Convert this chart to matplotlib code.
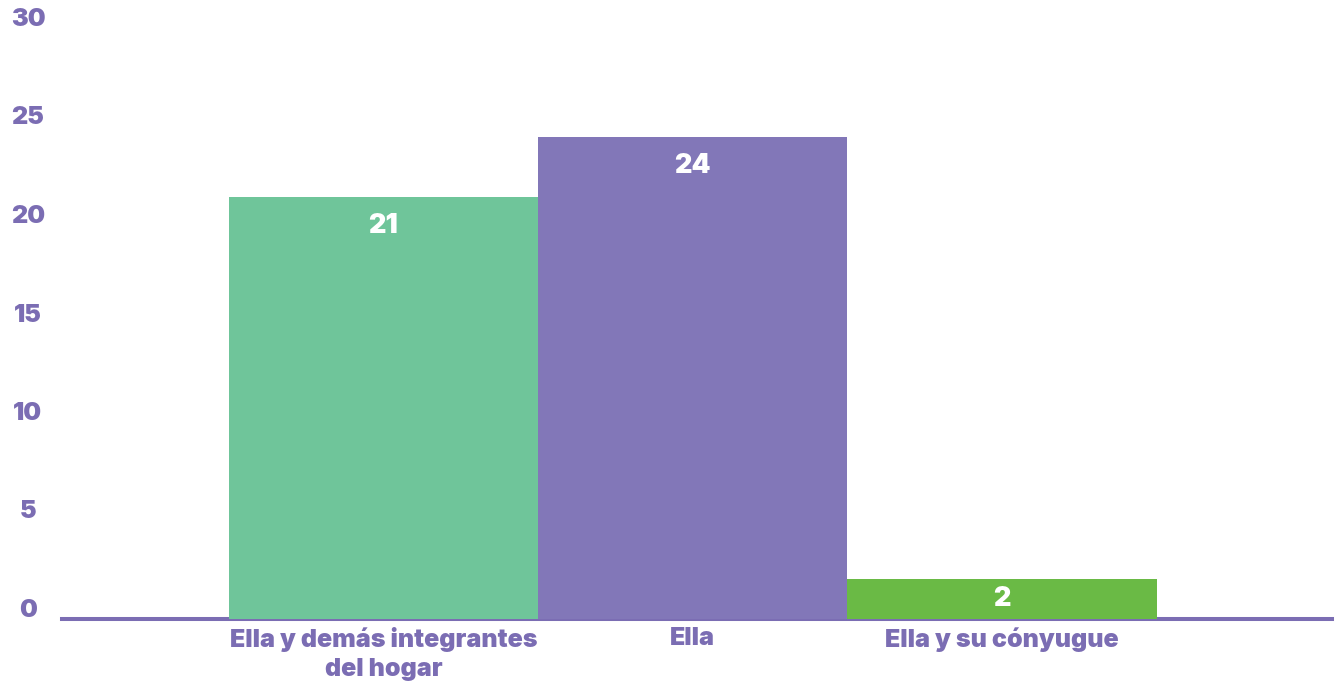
import matplotlib
matplotlib.use("Agg")
import matplotlib.pyplot as plt
from matplotlib.transforms import ScaledTranslation

categories = ["Ella y demás integrantes\ndel hogar", "Ella", "Ella y su cónyugue"]
values = [21, 24, 2]
bar_colors = ["#6fc59a", "#8277b8", "#6aba45"]
yticks = [0, 5, 10, 15, 20, 25, 30]

TXT = "#7b6db3"
plt.rcParams['font.family'] = ['Inter', 'DejaVu Sans']
W = 900

fig = plt.figure(figsize=(13.4, 6.84), dpi=100)
ax = fig.add_axes([62/1340, 1-619/684, (1332-62)/1340, 603/684])

x = list(range(len(categories)))
bars = ax.bar(x, values, width=1.0, color=bar_colors, zorder=3)

ax.set_xlim(-1.039, 3.067)
ax.set_ylim(0, 30)
ax.set_yticks(yticks)
ax.set_yticklabels([str(t) for t in yticks])
ax.set_xticks(x)
ax.set_xticklabels(categories)

for s in ["top", "left", "right"]:
    ax.spines[s].set_visible(False)
ax.spines["bottom"].set_color(TXT)
ax.spines["bottom"].set_linewidth(2.9)
ax.spines["bottom"].set_zorder(2)

ax.tick_params(axis="y", length=0, pad=24.5, labelsize=18, labelcolor=TXT)
ax.tick_params(axis="x", length=0, pad=6, labelsize=18, labelcolor=TXT)
for t, lab in zip(yticks, ax.get_yticklabels()):
    lab.set_fontweight(W)
    lab.set_horizontalalignment("center")
    dy_px = 11 - 0.4 * t
    lab.set_transform(lab.get_transform() + ScaledTranslation(0, dy_px / 100, fig.dpi_scale_trans))
for lab in ax.get_xticklabels():
    lab.set_fontweight(W)
    lab.set_linespacing(1.3)

for xi, v in zip(x, values):
    if v >= 5:
        ax.annotate(str(v), xy=(xi, v), xytext=(0, -21), textcoords="offset points",
                    ha="center", va="center", color="white", fontsize=19.5,
                    fontweight=W, zorder=4)
    else:
        ax.text(xi, v / 2, str(v), ha="center", va="center", color="white",
                fontsize=19.5, fontweight=W, zorder=4)

fig.savefig("out.png", dpi=100)
